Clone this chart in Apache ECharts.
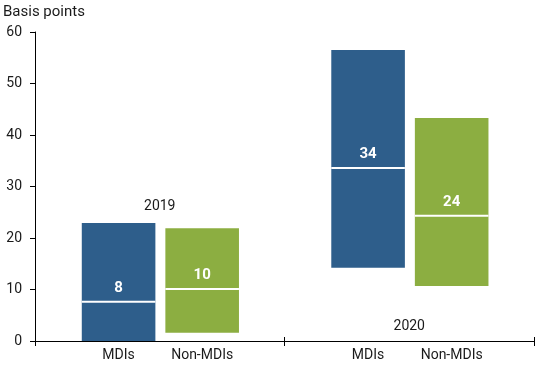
<!DOCTYPE html>
<html>
<head>
<meta charset="utf-8">
<script src="https://cdn.jsdelivr.net/npm/echarts@6/dist/echarts.min.js"></script>
<style>html,body{margin:0;padding:0;background:#fff}#c{width:550px;height:365px}</style>
</head>
<body>
<div id="c"></div>
<script>
const years = ['2019', '2020'];
const groupNames = ['MDIs', 'Non-MDIs'];
const mdiLow = [0, 14.2];
const mdiHigh = [22.9, 56.5];
const mdiMedian = [7.6, 33.6];
const mdiLabel = ['8', '34'];
const nonLow = [1.6, 10.7];
const nonHigh = [21.9, 43.3];
const nonMedian = [10.1, 24.3];
const nonLabel = ['10', '24'];
const yearLabelY = [26.2, 2.9];
const yTicks = [0, 10, 20, 30, 40, 50, 60];

const FONT = 'Roboto';
const TXT = '#1a1a1a';

function makeRender(offFrac, wFrac, color, name) {
  return function (params, api) {
    const x = api.value(0), lo = api.value(1), hi = api.value(2), med = api.value(3);
    const lab = String(api.value(4));
    const band = api.size([1, 0])[0];
    const base = api.coord([x, 0]);
    const cx = base[0] + offFrac * band;
    const w = wFrac * band;
    const top = api.coord([x, hi])[1];
    const bot = api.coord([x, lo])[1];
    const my = api.coord([x, med])[1];
    return {
      type: 'group',
      children: [
        { type: 'rect', shape: { x: cx - w / 2, y: top, width: w, height: bot - top }, style: { fill: color } },
        { type: 'line', shape: { x1: cx - w / 2, y1: my, x2: cx + w / 2, y2: my }, style: { stroke: '#fff', lineWidth: 2 } },
        { type: 'text', style: { x: cx, y: my - 14, text: lab, fill: '#fff', font: 'bold 15px ' + FONT, align: 'center', verticalAlign: 'middle' } },
        { type: 'text', style: { x: cx, y: base[1] + 14, text: name, fill: TXT, font: '14px ' + FONT, align: 'center', verticalAlign: 'middle' } }
      ]
    };
  };
}

const chart = echarts.init(document.getElementById('c'));
chart.setOption({
  animation: false,
  title: { text: 'Basis points', left: 3, top: 5, padding: 0, textStyle: { fontFamily: FONT, fontSize: 15, fontWeight: 'normal', color: TXT } },
  grid: { left: 35, right: 16, top: 32, bottom: 24 },
  xAxis: [
    { type: 'category', data: years, boundaryGap: true,
      axisLine: { lineStyle: { color: '#000', width: 1 } },
      axisTick: { show: true, length: 5, lineStyle: { color: '#000' } },
      axisLabel: { show: false }, splitLine: { show: false } },
    { type: 'category', data: years, boundaryGap: true, position: 'bottom',
      axisLine: { show: false },
      axisTick: { show: true, inside: true, length: 4, lineStyle: { color: '#000' } },
      axisLabel: { show: false }, splitLine: { show: false } }
  ],
  yAxis: {
    type: 'value', min: yTicks[0], max: yTicks[yTicks.length - 1], interval: 10,
    axisLine: { show: true, lineStyle: { color: '#000' } },
    axisTick: { show: true, length: 5, lineStyle: { color: '#000' } },
    axisLabel: { margin: 13, fontFamily: FONT, fontSize: 14, color: TXT },
    splitLine: { show: false }
  },
  series: [
    { type: 'custom', name: groupNames[0], clip: false,
      renderItem: makeRender(-0.165, 0.295, '#2e5e8b', groupNames[0]),
      data: years.map((y, i) => [i, mdiLow[i], mdiHigh[i], mdiMedian[i], mdiLabel[i]]) },
    { type: 'custom', name: groupNames[1], clip: false,
      renderItem: makeRender(0.17, 0.295, '#8cae41', groupNames[1]),
      data: years.map((y, i) => [i, nonLow[i], nonHigh[i], nonMedian[i], nonLabel[i]]) },
    { type: 'custom', name: 'years', clip: false, silent: true,
      renderItem: function (params, api) {
        const p = api.coord([api.value(0), api.value(1)]);
        return { type: 'text', style: { x: p[0], y: p[1], text: years[api.value(0)], fill: TXT, font: '14px ' + FONT, align: 'center', verticalAlign: 'middle' } };
      },
      data: years.map((y, i) => [i, yearLabelY[i]]) }
  ]
});
</script>
</body>
</html>
